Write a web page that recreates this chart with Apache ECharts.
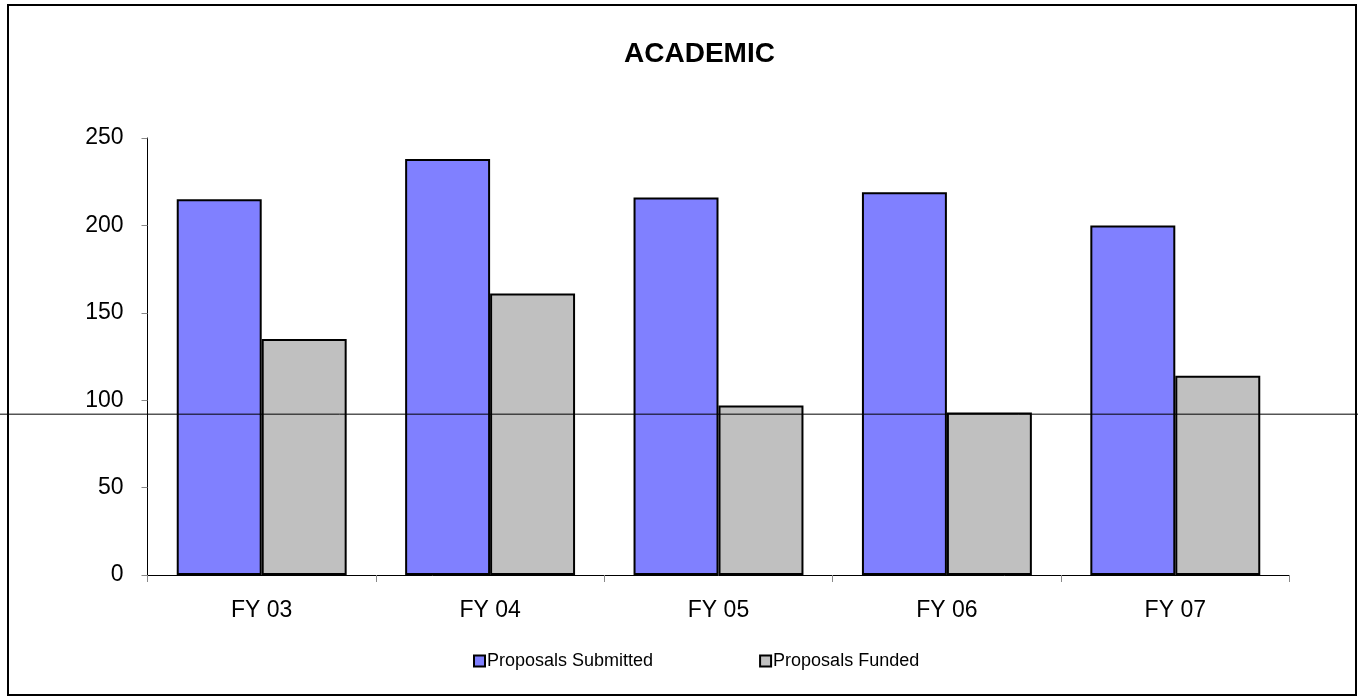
<!DOCTYPE html>
<html><head><meta charset="utf-8">
<script src="https://cdn.jsdelivr.net/npm/echarts@6/dist/echarts.min.js"></script>
<style>html,body{margin:0;padding:0;background:#fff}#c{width:1358px;height:697px}</style>
</head><body><div id="c"></div>
<script>
const categories = ['FY 03','FY 04','FY 05','FY 06','FY 07'];
const submitted = [215, 238, 216, 219, 200];
const funded = [135, 161, 97, 93, 114];
const yTicks = [0, 50, 100, 150, 200, 250];
const refLineValue = 92;

const chart = echarts.init(document.getElementById('c'));
const font = 'Liberation Sans, Arial, sans-serif';
chart.setOption({
  animation: false,
  title: { text: 'ACADEMIC', left: 624, top: 40, padding: 0,
    textStyle: { fontFamily: font, fontSize: 28, fontWeight: 'bold', color: '#000' } },
  grid: { left: 147.5, right: 68.5, top: 138, bottom: 122, containLabel: false },
  legend: {
    top: 652, left: 473, padding: 0, itemGap: 106, itemWidth: 11, itemHeight: 11,
    icon: 'rect',
    itemStyle: { borderColor: '#000', borderWidth: 2 },
    textStyle: { fontFamily: font, fontSize: 18, color: '#000', padding: [0,0,0,-3] },
    data: ['Proposals Submitted', 'Proposals Funded']
  },
  xAxis: {
    type: 'category', data: categories,
    axisLine: { lineStyle: { color: '#000', width: 1 } },
    axisTick: { show: true, length: 7, lineStyle: { color: '#888' } },
    axisLabel: { fontFamily: font, fontSize: 23, color: '#000', margin: 24 }
  },
  yAxis: {
    type: 'value', min: yTicks[0], max: yTicks[yTicks.length-1], interval: 50,
    axisLine: { show: true, lineStyle: { color: '#000', width: 1 } },
    axisTick: { show: true, length: 6, lineStyle: { color: '#888' } },
    splitLine: { show: false },
    axisLabel: { fontFamily: font, fontSize: 23, color: '#000', margin: 24 }
  },
  series: [
    { name: 'Proposals Submitted', type: 'bar', data: submitted,
      barGap: '0%', barCategoryGap: '25.6%',
      itemStyle: { color: '#8080ff', borderColor: '#000', borderWidth: 2 } },
    { name: 'Proposals Funded', type: 'bar', data: funded,
      itemStyle: { color: '#c0c0c0', borderColor: '#000', borderWidth: 2 } }
  ]
});
const yPix = chart.convertToPixel({ yAxisIndex: 0 }, refLineValue);
chart.setOption({
  graphic: [
    { type: 'rect', shape: { x: 8, y: 5, width: 1348, height: 690 },
      style: { fill: null, stroke: '#000', lineWidth: 2 }, silent: true },
    { type: 'line', shape: { x1: 0, y1: yPix, x2: 1358, y2: yPix },
      style: { stroke: '#000', lineWidth: 1 }, z: 100, silent: true }
  ]
});
</script></body></html>
